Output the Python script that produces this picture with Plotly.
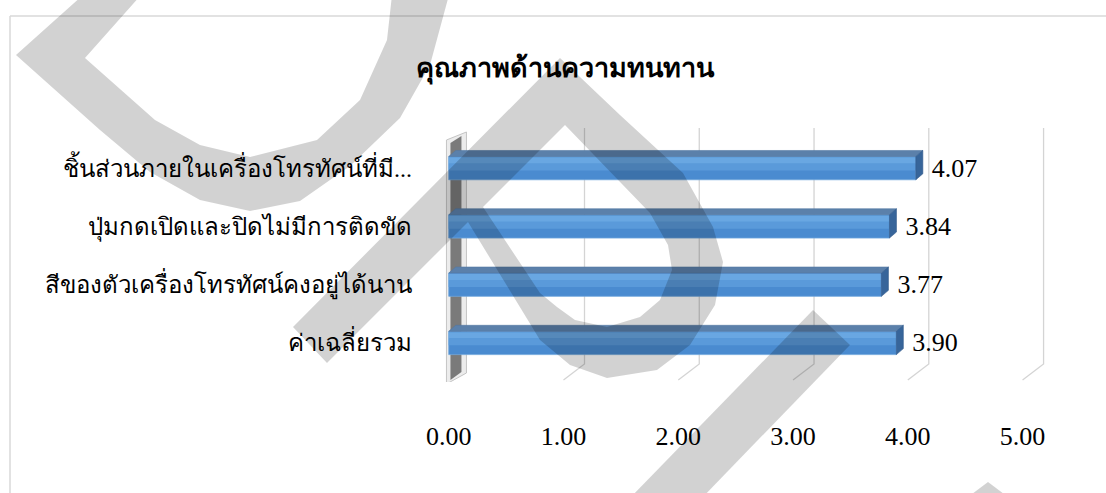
import plotly.graph_objects as go

# ---------------- data ----------------
title_text = "คุณภาพด้านความทนทาน"
categories = [
    "ชิ้นส่วนภายในเครื่องโทรทัศน์ที่มี...",
    "ปุ่มกดเปิดและปิดไม่มีการติดขัด",
    "สีของตัวเครื่องโทรทัศน์คงอยู่ได้นาน",
    "ค่าเฉลี่ยรวม",
]
values = [4.07, 3.84, 3.77, 3.90]
x_tickvals = [0, 1, 2, 3, 4, 5]
x_ticktext = ["0.00", "1.00", "2.00", "3.00", "4.00", "5.00"]

# ---------------- layout constants ----------------
W, H = 1106, 493
L, R, T, B = 443, 49, 125, 111
XR = [-0.05, 5.3]
YR = [-0.67, 3.74]
PW, PH = W - L - R, H - T - B
UX = PW / (XR[1] - XR[0])
UY = PH / (YR[1] - YR[0])

positions = [len(categories) - 1 - i for i in range(len(categories))]
BAR_W = 0.40
DX = 7 / UX          # 3D depth offset (x units)
DY = 6 / UY          # 3D depth offset (y units)
GDX = 21 / UX        # back-wall offset for gridlines
def ypx(py):         # pixel row -> y data value
    return YR[1] - (py - T) / UY
def px2paper(px, py):
    return (px - L) / PW, (T + PH - py) / PH

FONT = "Liberation Serif, Times New Roman, serif"

fig = go.Figure()
fig.add_trace(go.Bar(
    x=values, y=positions, orientation="h", width=BAR_W,
    marker=dict(color="#4a8bd0", line=dict(color="#6fa6dc", width=0.8)),
    text=["  %.2f" % v for v in values], textposition="outside",
    constraintext="none",
    textfont=dict(family=FONT, size=26, color="#000000"),
    cliponaxis=False, hoverinfo="skip",
))

shapes = []
# 3D wall at x = 0
wx0, wx1 = -0.02, -0.02 + 20 / UX
shapes.append(dict(type="path", xref="x", yref="y", layer="below",
                   path=f"M {wx0},{ypx(384)} L {wx0},{ypx(140)} L {wx1},{ypx(132)} L {wx1},{ypx(373)} Z",
                   fillcolor="#ececec", line=dict(color="#c4c4c4", width=1)))
shapes.append(dict(type="path", xref="x", yref="y", layer="below",
                   path=f"M {wx0+4/UX},{ypx(380)} L {wx0+4/UX},{ypx(143)} L {wx1-5/UX},{ypx(136)} L {wx1-5/UX},{ypx(372)} Z",
                   fillcolor="#7a7a7a", line=dict(width=0)))

# gridlines in 3D perspective
for t in x_tickvals[1:]:
    shapes.append(dict(type="path", xref="x", yref="y", layer="below",
                       path=f"M {t+GDX},{ypx(128)} L {t+GDX},{ypx(364)} L {t},{ypx(380)}",
                       line=dict(color="#d4d4d4", width=1.3)))

# 3D bar faces
for y, v in zip(positions, values):
    top = y + BAR_W / 2
    bot = y - BAR_W / 2
    # gradient-like bands on front face
    shapes.append(dict(type="rect", xref="x", yref="y", layer="above",
                       x0=0, x1=v, y0=y - 0.04, y1=y + 0.08,
                       fillcolor="#5a9ada", line=dict(width=0)))
    shapes.append(dict(type="rect", xref="x", yref="y", layer="above",
                       x0=0, x1=v, y0=y + 0.08, y1=top - 0.015,
                       fillcolor="#69a7e2", line=dict(width=0)))
    # top face
    shapes.append(dict(type="path", xref="x", yref="y", layer="above",
                       path=f"M 0,{top} L {v},{top} L {v+DX},{top+DY} L {DX},{top+DY} Z",
                       fillcolor="#5b80aa", line=dict(color="#5277a3", width=0.6)))
    # end face
    shapes.append(dict(type="path", xref="x", yref="y", layer="above",
                       path=f"M {v},{bot} L {v},{top} L {v+DX},{top+DY} L {v+DX},{bot+DY} Z",
                       fillcolor="#37659a", line=dict(color="#30598a", width=0.6)))

# outer chart frame (left and top border)
fx, fy = px2paper(10, 16)
_, fyb = px2paper(10, 520)
fxr, _ = px2paper(1120, 16)
shapes.append(dict(type="line", xref="paper", yref="paper", x0=fx, y0=fyb, x1=fx, y1=fy,
                   line=dict(color="#d9d9d9", width=1.5)))
shapes.append(dict(type="line", xref="paper", yref="paper", x0=fx, y0=fy, x1=fxr, y1=fy,
                   line=dict(color="#d9d9d9", width=1.5)))

# background watermark (decoration)
def poly(points):
    s = ""
    for i, (a, b) in enumerate(points):
        px_, py_ = px2paper(a, b)
        s += ("M " if i == 0 else " L ") + f"{px_:.5f},{py_:.5f}"
    return s + " Z"

wm1 = [(83, -5), (16, 55), (100, 130), (150, 172), (200, 200), (250, 211), (300, 201),
       (350, 166), (400, 118), (430, 65), (449, -5),
       (392, -5), (387, 40), (360, 100), (317, 140), (250, 157), (200, 145),
       (155, 120), (85, 58), (141, -5)]
wm2_outer = [(293, 327), (560, 58), (620, 115), (683, 173), (713, 227), (723, 262),
             (715, 305), (690, 345), (657, 370), (607, 378), (570, 365), (540, 340),
             (468, 222), (327, 363)]
wm2_hole = [(565, 125), (650, 213), (668, 245), (672, 270), (660, 300), (640, 317),
            (607, 327), (575, 320), (557, 307), (540, 293), (483, 207)]
wm3 = [(813, 310), (850, 345), (700, 500), (628, 500)]
wm4 = [(988, 482), (1012, 500), (964, 500)]
wm_color = "rgba(0,0,0,0.175)"
for p in [poly(wm1), poly(wm2_outer) + " " + poly(wm2_hole), poly(wm3), poly(wm4)]:
    shapes.append(dict(type="path", xref="paper", yref="paper", layer="above",
                       path=p, fillcolor=wm_color, fillrule="evenodd", line=dict(width=0)))

fig.update_layout(
    width=W, height=H,
    margin=dict(l=L, r=R, t=T, b=B, pad=0),
    paper_bgcolor="white", plot_bgcolor="white",
    showlegend=False,
    title=dict(text=f"<b>{title_text}</b>", x=565 / W, xanchor="center",
               y=1 - 68 / H, yanchor="middle", yref="container",
               font=dict(family=FONT, size=27, color="#000000")),
    xaxis=dict(range=XR, tickvals=x_tickvals, ticktext=x_ticktext, showgrid=False,
               zeroline=False, showline=False, ticks="", ticklabelstandoff=36,
               tickfont=dict(family=FONT, size=26, color="#000000")),
    yaxis=dict(range=YR, tickvals=positions, ticktext=categories, showgrid=False,
               zeroline=False, showline=False, ticks="", ticklabelstandoff=30,
               tickfont=dict(family=FONT, size=24, color="#000000")),
    shapes=shapes,
    bargap=0.5,
)

fig.write_html("out.html")
